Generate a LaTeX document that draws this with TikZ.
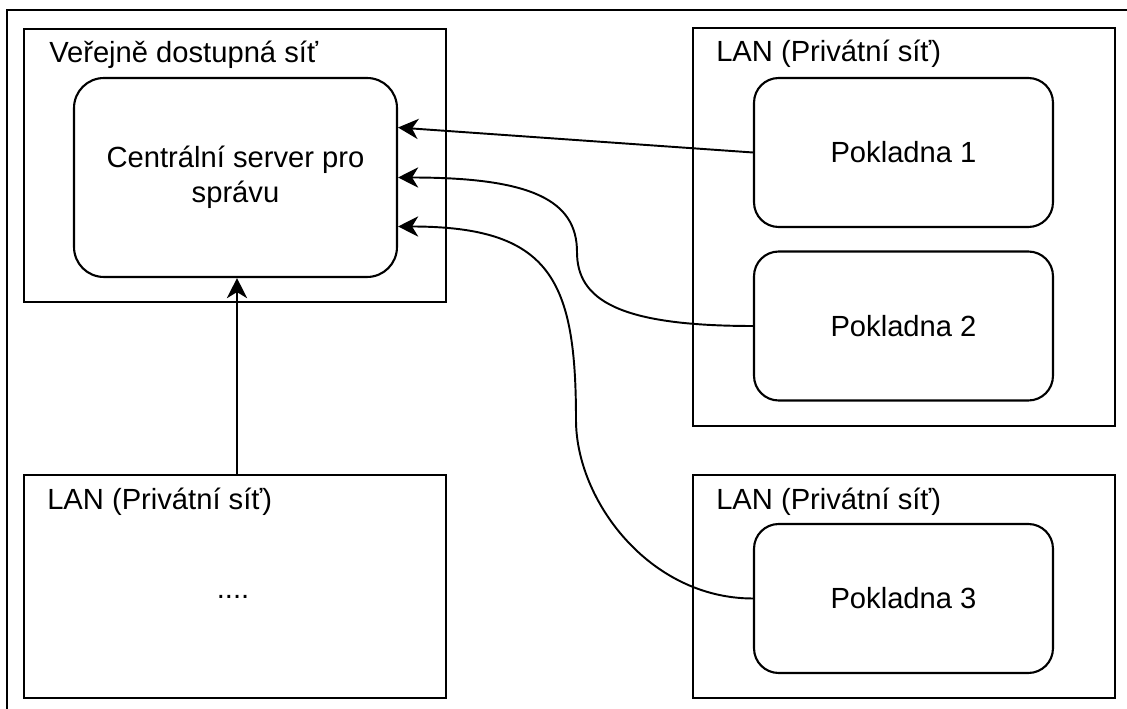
\documentclass[tikz,border=0pt]{standalone}
\usepackage{fontspec}
\setmainfont{Liberation Sans}
\usetikzlibrary{arrows.meta}

\begin{document}
\begin{tikzpicture}[
    x=0.02cm, y=-0.02cm,
    >={Stealth[length=11.5pt, width=11.5pt, inset=3.5pt]},
    font=\fontsize{16.6}{19.8}\selectfont,
    netbox/.style={draw, line width=1.3pt, minimum width=8.44cm, inner sep=0pt},
    nettitle/.style={anchor=west, inner sep=0pt, text height=12pt, text depth=3.5pt},
    devbox/.style={draw, line width=1.2pt, rounded corners=14pt, align=center, inner sep=0pt, minimum width=5.98cm, minimum height=2.98cm},
    conn/.style={->, line width=1.1pt}
]
\useasboundingbox (0,0) rectangle (1127,709);
\draw[line width=1.3pt] (7,712) -- (7,10) -- (1130,10);

% public part
\node[netbox, minimum height=5.46cm] (pub) at (235,165.5) {};
\node[nettitle] (pubtitle) at ([shift={(26,27)}]pub.north west) {Veřejně dostupná síť};
\node[devbox, rounded corners=17pt, minimum width=6.46cm, minimum height=3.98cm] (server) at (235.5,177.5) {Centrální server pro\\správu};

% private networks
\node[netbox, minimum height=7.96cm] (lan1) at (904,227) {};
\node[nettitle] (lan1title) at ([shift={(24,27)}]lan1.north west) {LAN (Privátní síť)};
\node[devbox] (pos1) at (903.5,152.5) {Pokladna 1};
\node[devbox] (pos2) at (903.5,326) {Pokladna 2};

\node[netbox, minimum height=4.46cm] (lan2) at (235,586.5) {};
\node[nettitle] (lan2title) at ([shift={(24,28)}]lan2.north west) {LAN (Privátní síť)};
\node (more) at (233,597) {....};

\node[netbox, minimum height=4.46cm] (lan3) at (904,586.5) {};
\node[nettitle] (lan3title) at ([shift={(24,28)}]lan3.north west) {LAN (Privátní síť)};
\node[devbox] (pos3) at (903.5,598.5) {Pokladna 3};

% connections to the server
\coordinate (bend2) at (577,252);
\coordinate (bend3) at (576,420);
\draw[conn] (pos1.west) -- ([shift={(0,-50)}]server.east);
\draw[conn] (pos2.west) .. controls +(-134,0) and +(0,48) .. (bend2)
    .. controls +(0,-52) and +(133,0) .. (server.east);
\draw[conn] (pos3.west) .. controls +(-104,0) and +(0,80) .. (bend3)
    .. controls +(0,-140) and +(153,0) .. ([shift={(0,49)}]server.east);
\draw[conn] (lan2.north -| 237,0) -- (server.south -| 237,0);
\end{tikzpicture}
\end{document}
